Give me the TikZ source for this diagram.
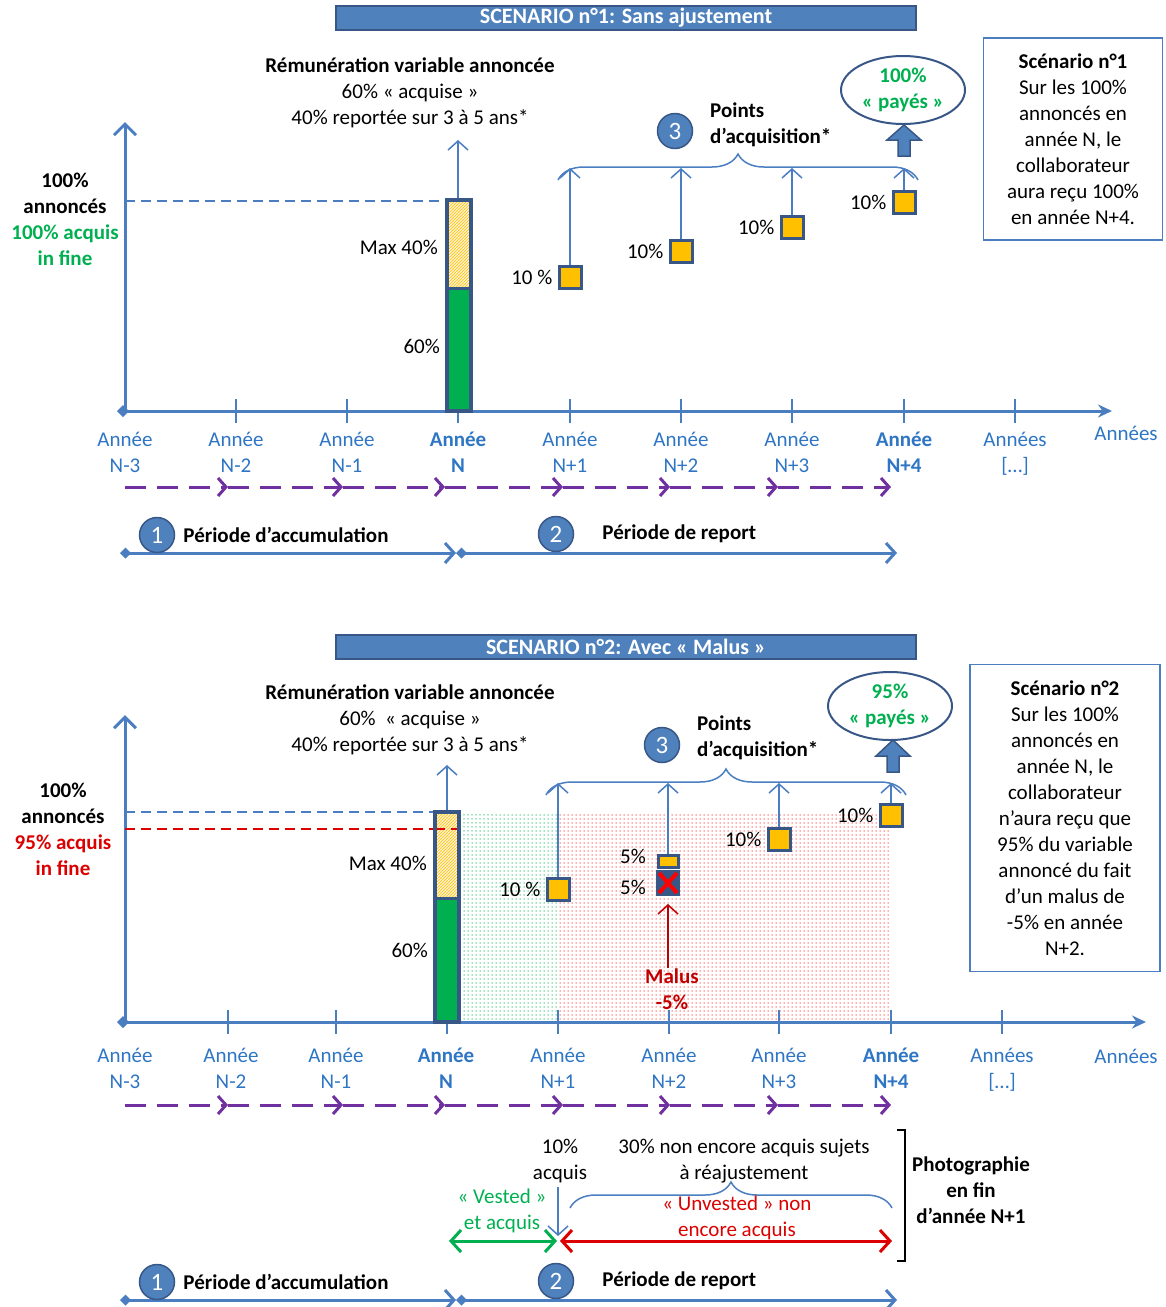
\documentclass[tikz,border=0pt]{standalone}
\usepackage{fontspec}
\setmainfont{Carlito}
\usetikzlibrary{arrows.meta,patterns,decorations.pathreplacing,shapes.geometric,positioning}

\definecolor{axisblue}{RGB}{74,126,193}
\definecolor{textblue}{RGB}{46,117,196}
\definecolor{darkblue}{RGB}{56,87,135}
\definecolor{fillblue}{RGB}{79,129,189}
\definecolor{okgreen}{RGB}{0,176,80}
\definecolor{gold}{RGB}{255,192,0}
\definecolor{lightgold}{RGB}{255,242,204}
\definecolor{violet}{RGB}{112,48,160}
\definecolor{malusred}{RGB}{192,0,0}
\definecolor{brightred}{RGB}{220,0,0}

% sparse dots for the vested / unvested zones
\pgfdeclarepatternformonly{sparsedots}{\pgfqpoint{-1pt}{-1pt}}{\pgfqpoint{1pt}{1pt}}{\pgfqpoint{4pt}{4pt}}%
  {\pgfpathcircle{\pgfqpoint{0pt}{0pt}}{0.75pt}\pgfusepath{fill}}

\tikzset{
  txt/.style={font=\fontsize{21}{26}\selectfont, inner sep=0pt, align=center},
  bold/.style={txt, font=\fontsize{21}{26}\selectfont\bfseries},
  year/.style={txt, text=textblue, anchor=north},
  yearb/.style={bold, text=textblue, anchor=north},
  banner/.style={draw=darkblue, line width=2.5pt, fill=fillblue, text=white,
    font=\fontsize{22}{24}\selectfont\bfseries, minimum width=580pt, minimum height=24pt, inner sep=0pt},
  numdisc/.style={circle, draw=darkblue, line width=1.5pt, fill=fillblue, text=white,
    minimum size=35pt, inner sep=0pt, font=\fontsize{25}{25}\selectfont},
  share/.style={draw=darkblue, line width=3pt, fill=gold, minimum size=22pt, inner sep=0pt},
  payout/.style={ellipse, draw=darkblue, line width=2pt, minimum width=124pt, minimum height=68pt,
    inner sep=0pt, text=okgreen, font=\fontsize{21}{26}\selectfont\bfseries, align=center},
  infobox/.style={draw=axisblue, line width=1.5pt, txt},
  axis/.style={axisblue, line width=3pt},
  tick/.style={axisblue, line width=1.5pt},
  riser/.style={axisblue, line width=1.5pt, -{Straight Barb[length=9pt,width=20pt]}},
  flow/.style={violet, line width=3pt, dash pattern=on 21pt off 11pt, -{Straight Barb[length=8pt,width=18pt]}},
  period/.style={axisblue, line width=3pt},
  ends/.style={{Diamond[length=11pt,width=11pt]}-{Straight Barb[length=9pt,width=20pt]}},
  curly/.style={decorate, decoration={brace, amplitude=26pt, aspect=0.5}, axisblue, line width=1.5pt},
  bigup/.style={fill=fillblue, draw=darkblue, line width=1.5pt, line join=miter},
  twoway/.style={line width=3pt, {Straight Barb[length=10pt,width=22pt]}-{Straight Barb[length=10pt,width=22pt]}},
}

\begin{document}
\begin{tikzpicture}[x=1pt,y=-1pt]
\useasboundingbox (0,0) rectangle (1166,1307);

% ===== Scenario 1 =====
\node[banner] (ban1) at (626,18) {SCENARIO n°1: Sans ajustement};

\node[bold] (left1) at (65,219) {100\%\\annoncés\\\textcolor{okgreen}{100\% acquis}\\\textcolor{okgreen}{in fine}};
\node[txt] (title1) at (410,93) {\textbf{Rémunération variable annoncée}\\60\% «~acquise~»\\40\% reportée sur 3 à 5 ans*};
\node[infobox, minimum width=179pt, minimum height=202pt] (box1) at (1073,139)
  {\textbf{Scénario n°1}\\Sur les 100\%\\annoncés en\\année N, le\\collaborateur\\aura reçu 100\%\\en année N+4.};

% axes
\draw[axis, {Diamond[length=12pt,width=12pt]}-{Stealth[length=14pt,width=13pt]}] (117,411) -- (1112,411);
\draw[axis, -{Straight Barb[length=11pt,width=22pt]}] (125,411) -- (125,122);
\foreach \x in {236,347,458,570,681,792,904,1015}
  \draw[tick] (\x,399) -- (\x,423);
\foreach \x/\n/\s [count=\i] in {125/N-3/year,236/N-2/year,347/N-1/year,458/N/yearb,570/N+1/year,681/N+2/year,792/N+3/year,904/N+4/yearb}
  \node[\s] (ya\i) at (\x,432) {Année\\\n};
\node[year] (ya9) at (1015,432) {Années\\{}[…]};
\node[year] (yend1) at (1126,426) {Années};

% bar
\draw[axisblue, dashed, dash pattern=on 10pt off 6pt, line width=1.5pt] (125,201) -- (447,201);
\draw[riser] (458,200) -- (458,140);
\fill[okgreen] (447,288) rectangle (471,411);
\fill[lightgold] (447,200) rectangle (471,288);
\pattern[pattern=north east lines, pattern color=gold] (447,200) rectangle (471,288);
\draw[darkblue, line width=3pt] (447,288) -- (471,288);
\draw[darkblue, line width=4pt] (447,200) rectangle (471,411);
\node[txt, anchor=east] (max1) at (438,247) {Max 40\%};
\node[txt, anchor=east] (base1) at (440,346) {60\%};

% acquisition points
\foreach \x/\y/\t [count=\i] in {570/277/{10 \%},681/251/{10\%},792/227/{10\%},904/202/{10\%}} {
  \node[share] (sq\i) at (\x,\y) {};
  \node[txt, left=5pt of sq\i] (pc\i) {\t};
  \coordinate (tp\i) at (\x,168);
  \draw[riser] (sq\i.north) -- (tp\i);
}
\draw[curly] (558,180) -- (918,180);
\node[numdisc] (d3a) at (675,131) {3};
\node[bold, anchor=west, align=left] (pts1) at (710,125) {Points\\d’acquisition*};
\node[payout] (pay1) at (903,90) {100\%\\«~payés~»};
\draw[bigup] (898,156) -- (898,140) -- (887,140) -- (904,125) -- (921,140) -- (910,140) -- (910,156) -- cycle;

% flows
\foreach \a/\b in {125/228,228/343,343/445,445/563,563/670,670/778,778/891}
  \draw[flow] (\a,487) -- (\b,487);
\draw[period, ends] (120,553) -- (456,553);
\draw[period, ends] (456,553) -- (897,553);
\node[numdisc] (d1a) at (157,535) {1};
\node[bold, right=8pt of d1a] (acc1) {Période d’accumulation};
\node[numdisc] (d2a) at (556,534) {2};
\node[bold, right=28pt of d2a] (rep1) {Période de report};

% ===== Scenario 2 =====
\node[banner] (ban2) at (626,647) {SCENARIO n°2: Avec «~Malus~»};

\node[bold] (left2) at (63,829) {100\%\\annoncés\\\textcolor{brightred}{95\% acquis}\\\textcolor{brightred}{in fine}};
\node[txt] (title2) at (410,720) {\textbf{Rémunération variable annoncée}\\60\%~ «~acquise~»\\40\% reportée sur 3 à 5 ans*};
\node[infobox, minimum width=190pt, minimum height=307pt] (box2) at (1065,818)
  {\textbf{Scénario n°2}\\Sur les 100\%\\annoncés en\\année N, le\\collaborateur\\n’aura reçu que\\95\% du variable\\annoncé du fait\\d’un malus de\\-5\% en année\\N+2.};

% dotted zones
\fill[pattern=sparsedots, pattern color=okgreen!75] (459,812) rectangle (558,1020);
\fill[pattern=sparsedots, pattern color=red!65] (558,812) rectangle (891,1020);

% axes
\draw[axis, {Diamond[length=12pt,width=12pt]}-{Stealth[length=14pt,width=13pt]}] (117,1022) -- (1146,1022);
\draw[axis, -{Straight Barb[length=11pt,width=22pt]}] (125,1022) -- (125,715);
\foreach \x in {228,336,447,558,669,779,891,1002}
  \draw[tick] (\x,1010) -- (\x,1034);
\foreach \x/\n/\s [count=\i] in {125/N-3/year,231/N-2/year,336/N-1/year,446/N/yearb,558/N+1/year,669/N+2/year,779/N+3/year,891/N+4/yearb}
  \node[\s] (yb\i) at (\x,1048) {Année\\\n};
\node[year] (yb9) at (1002,1048) {Années\\{}[…]};
\node[year] (yend2) at (1126,1049) {Années};

% bar
\draw[axisblue, dashed, dash pattern=on 10pt off 6pt, line width=1.5pt] (125,812) -- (435,812);
\draw[brightred, dashed, dash pattern=on 10pt off 6pt, line width=1.5pt] (125,829) -- (459,829);
\draw[riser] (447,812) -- (447,765);
\fill[okgreen] (435,898) rectangle (459,1022);
\fill[lightgold] (435,812) rectangle (459,898);
\pattern[pattern=north east lines, pattern color=gold] (435,812) rectangle (459,898);
\draw[brightred, dashed, dash pattern=on 10pt off 6pt, line width=1.5pt] (435,829) -- (459,829);
\draw[darkblue, line width=3pt] (435,898) -- (459,898);
\draw[darkblue, line width=4pt] (435,812) rectangle (459,1022);
\node[txt, anchor=east] (max2) at (427,863) {Max 40\%};
\node[txt, anchor=east] (base2) at (428,950) {60\%};

% acquisition points
\foreach \x/\y/\t/\k in {558/889/{10 \%}/1,779/839/{10\%}/3,891/815/{10\%}/4} {
  \node[share] (sr\k) at (\x,\y) {};
  \node[txt, left=5pt of sr\k] (pd\k) {\t};
  \coordinate (tq\k) at (\x,783);
  \draw[riser] (sr\k.north) -- (tq\k);
}
\node[share, minimum width=20pt, minimum height=12pt] (sr2) at (668,861) {};
\node[draw=darkblue, fill=darkblue, line width=2pt, minimum width=22pt, minimum height=24pt, inner sep=0pt] (cut2) at (668,883) {};
\draw[red, line width=4pt] ([shift={(3pt,-3pt)}]cut2.north west) -- ([shift={(-3pt,3pt)}]cut2.south east)
  ([shift={(-3pt,-3pt)}]cut2.north east) -- ([shift={(3pt,3pt)}]cut2.south west);
\node[txt] (pd2) at (633,856) {5\%};
\node[txt] (pe2) at (633,887) {5\%};
\coordinate (tq2) at (668,783);
\draw[riser] (sr2.north) -- (tq2);
\node[bold, text=malusred] (malus) at (672,989) {Malus\\-5\%};
\draw[malusred, line width=1.5pt, -{Straight Barb[length=9pt,width=20pt]}] (cut2.south |- malus.north) -- ([yshift=-8pt]cut2.south);

\draw[curly] (546,795) -- (906,795);
\node[numdisc] (d3b) at (662,745) {3};
\node[bold, anchor=west, align=left] (pts2) at (697,738) {Points\\d’acquisition*};
\node[payout] (pay2) at (890,706) {95\%\\«~payés~»};
\draw[bigup] (887,772) -- (887,756) -- (876,756) -- (893,740) -- (910,756) -- (899,756) -- (899,772) -- cycle;

% flows
\foreach \a/\b in {125/228,228/343,343/445,445/563,563/670,670/778,778/891}
  \draw[flow] (\a,1105) -- (\b,1105);

% snapshot end of N+1
\node[txt] (acq) at (560,1161) {10\%\\acquis};
\coordinate (cutpt) at (558,1236);
\draw[riser] (cutpt |- acq.south) ++(0,4) -- (cutpt);
\node[txt] (unacq) at (744,1161) {30\%~non encore acquis sujets\\à réajustement};
\draw[curly] (570,1208) -- (892,1208);
\node[txt, text=okgreen] (vest) at (502,1211) {«~Vested~»\\et acquis};
\node[txt, text=brightred] (unvest) at (737,1218) {«~Unvested~» non\\encore acquis};
\draw[okgreen, twoway] (449,1241) -- (557,1241);
\draw[brightred, twoway] (560,1241) -- (892,1241);
\draw[black, line width=1.5pt] (897,1130) -- (905,1130) -- (905,1261) -- (897,1261);
\node[bold] (photo) at (971,1190) {Photographie\\en fin\\d’année N+1};

\draw[period, ends] (120,1300) -- (456,1300);
\draw[period, ends] (456,1300) -- (897,1300);
\node[numdisc] (d1b) at (157,1282) {1};
\node[bold, right=8pt of d1b] (acc2) {Période d’accumulation};
\node[numdisc] (d2b) at (556,1281) {2};
\node[bold, right=28pt of d2b] (rep2) {Période de report};
\end{tikzpicture}
\end{document}
